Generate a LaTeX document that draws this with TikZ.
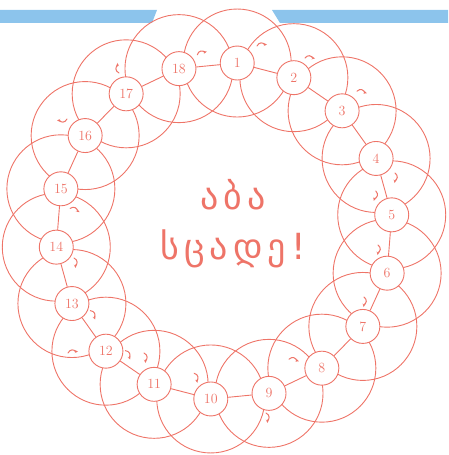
\documentclass[tikz,border=0pt]{standalone}
\usepackage{fontspec}
\newfontfamily\geofont[LetterSpace=14]{DejaVu Sans}
\usetikzlibrary{calc}
\definecolor{ink}{HTML}{EE7468}
\definecolor{band}{RGB}{140,196,236}

\begin{document}
\begin{tikzpicture}[
    x=1pt, y=1pt,
    ring/.style={draw=ink, line width=0.9pt},
    cell/.style={circle, draw=ink, fill=white, line width=0.9pt,
        minimum size=34pt, inner sep=0pt, text=ink,
        font=\fontsize{14}{14}\selectfont},
    squig/.style={draw=ink, line width=1pt, line cap=round},
    words/.style={text=ink, font=\geofont\fontsize{36}{36}\selectfont, anchor=base},
]
\useasboundingbox (0,0) rectangle (448,455);

\def\rr{168.5}
\def\big{54}

% the blue band at the top
\fill[band] (0,445) -- (157,445) -- (152,432) -- (0,432) -- cycle;
\fill[band] (272,445) -- (448,445) -- (448,432) -- (280,432) -- cycle;

% places of the eighteen cells
\foreach \k in {1,...,18}{
    \coordinate (p\k) at ({224 + \rr*cos(85.5 - 20*(\k-1))}, {224 + \rr*sin(85.5 - 20*(\k-1))});
}

% the large circles
\foreach \k in {1,...,18}{
    \draw[ring] (p\k) circle[radius=\big];
}

% the numbered cells
\foreach \k in {1,...,18}{
    \node[cell] (c\k) at (p\k) {\k};
}

% chords between neighbours
\foreach \k in {1,...,18}{
    \pgfmathtruncatemacro\nx{mod(\k,18)+1}
    \draw[ring] (c\k) -- (c\nx);
}

% little hooked marks
\foreach \x/\y/\r in {262/410/0, 202/402/10, 310/397/-10, 362/363/-20,
    395/277/-100, 375/259/-110, 378/205/-100, 364/153/-100, 294/95/-20,
    267/37/-90, 196/77/-80, 145/97/-90, 73/103/0, 128/100/-70, 93/140/-70,
    75/192/-90, 75/245/-30, 62/335/180, 118/387/90}{
    \begin{scope}[shift={(\x,\y)}, rotate=\r]
        \draw[squig] (-5,-1) .. controls (-3,3) and (1,3) .. (3,0);
        \fill[ink] (3,0) -- (1.5,2) -- (5,0.5) -- (1.5,-1.2) -- cycle;
    \end{scope}
}

% the words in the middle
\node[words] (top) at (233,245) {აბა};
\node[words] (bottom) at (233,195) {სცადე!};

\end{tikzpicture}
\end{document}
